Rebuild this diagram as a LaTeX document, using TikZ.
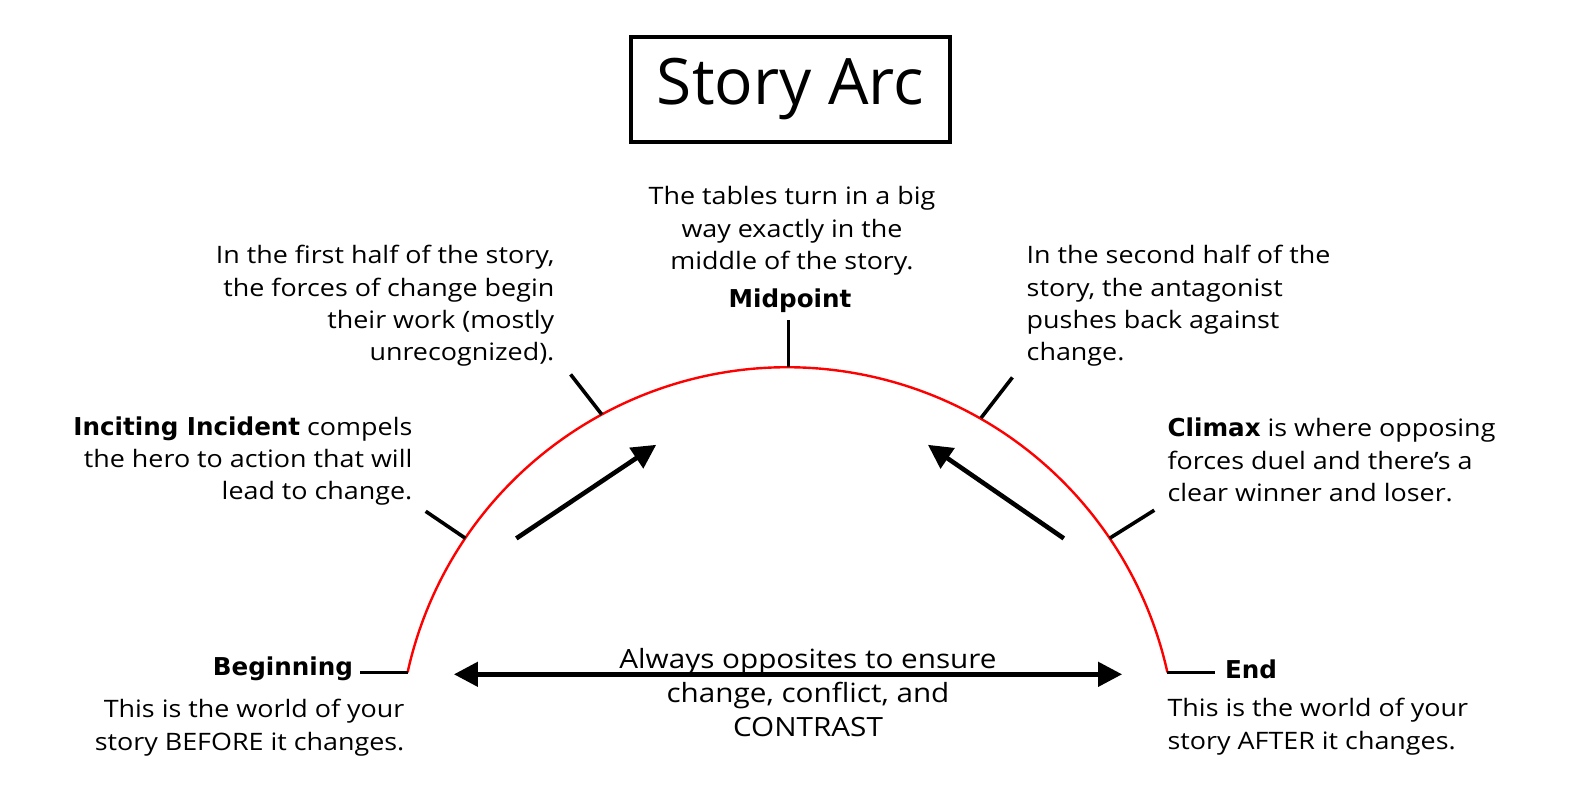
\documentclass[tikz,border=0pt]{standalone}
\usepackage{fontspec}
\setmainfont{Open Sans}
\newfontfamily\bodyfont[FakeStretch=1.12]{Open Sans}
\newfontfamily\dv{DejaVu Sans}
\usetikzlibrary{arrows.meta}
\tikzset{
  txt/.style={inner sep=0pt, font=\bodyfont\fontsize{24}{32.4}\selectfont},
  lbl/.style={inner sep=0pt, font=\dv\bfseries\fontsize{24.6}{30}\selectfont},
  tick/.style={line width=3.6pt},
  bigarrow/.style={line width=4.6pt, -{Triangle[length=24pt,width=24pt]}},
  arcline/.style={red, line width=2.4pt}
}
\begin{document}
\begin{tikzpicture}[x=1pt,y=-1pt]
\useasboundingbox (0,0) rectangle (1578,796);
\fill[white] (0,0) rectangle (1578,796);
% title
\node[draw, line width=4pt, minimum width=319pt, minimum height=105pt, inner sep=0pt,
  font=\fontsize{64}{70}\selectfont] (title) at (790.5,89.5) {Story Arc};
% arc: centre (787.5,756.4), R=389.1
\draw[arcline] (407.6,672.3) arc[start angle=-167.52, end angle=-12.48, radius=389.1];
% points on arc
\coordinate (pB) at (407.6,672.3);
\coordinate (pE) at (1167.4,672.3);
\coordinate (pI) at (465.3,538.2);
\coordinate (pF) at (601.8,414.5);
\coordinate (pM) at (788.5,367.3);
\coordinate (pS) at (981.0,418.0);
\coordinate (pC) at (1109.7,538.2);
% outer tick ends
\coordinate (oB) at (360.3,672.3);
\coordinate (oE) at (1214.7,672.3);
\coordinate (oI) at (425.7,511.3);
\coordinate (oF) at (570.6,374.4);
\coordinate (oM) at (788.5,320);
\coordinate (oS) at (1012.4,377.4);
\coordinate (oC) at (1154.3,510.2);
\foreach \a/\b in {pB/oB,pE/oE,pI/oI,pF/oF,pM/oM,pS/oS,pC/oC} \draw[tick] (\a) -- (\b);
% arrows
\coordinate (la) at (516.3,538.4);
\coordinate (lt) at (656.2,444.8);
\coordinate (ra) at (1063.8,538.4);
\coordinate (rt) at (927.9,444.8);
\coordinate (da) at (453.9,674.3);
\coordinate (db) at (1122.1,674.3);
\draw[bigarrow] (la) -- (lt);
\draw[bigarrow] (ra) -- (rt);
\draw[line width=4.6pt, {Triangle[length=24pt,width=24pt]}-{Triangle[length=24pt,width=24pt]}] (da) -- (db);
% texts
\node[txt, align=center] (mid) at (792,231) {The tables turn in a big\\way exactly in the\\middle of the story.};
\node[lbl] (midl) at (790,301) {Midpoint};
\node[txt, align=right, anchor=east] (first) at (554.5,306) {In the first half of the story,\\the forces of change begin\\their work (mostly\\unrecognized).};
\node[txt, align=left, anchor=west] (second) at (1026.5,306) {In the second half of the\\story, the antagonist\\pushes back against\\change.};
\node[txt, align=right, anchor=east] (inc) at (412.6,461) {{\dv\bfseries\fontsize{24.6}{30}\selectfont Inciting Incident} compels\\the hero to action that will\\lead to change.};
\node[txt, align=left, anchor=west] (clim) at (1167.4,460) {{\dv\bfseries\fontsize{24.6}{30}\selectfont Climax} is where opposing\\forces duel and there’s a\\clear winner and loser.};
\node[lbl, anchor=east] (beg) at (353.2,668.5) {Beginning};
\node[txt, align=right, anchor=east] (begd) at (404.6,727.5) {This is the world of your\\story BEFORE it changes.};
\node[lbl, anchor=west] (endl) at (1224.8,669) {End};
\node[txt, align=left, anchor=west] (endd) at (1167.4,726.5) {This is the world of your\\story AFTER it changes.};
\node[txt, align=center, font=\bodyfont\fontsize{26.5}{34}\selectfont] (opp) at (808,693) {Always opposites to ensure\\change, conflict, and\\CONTRAST};
\end{tikzpicture}
\end{document}
